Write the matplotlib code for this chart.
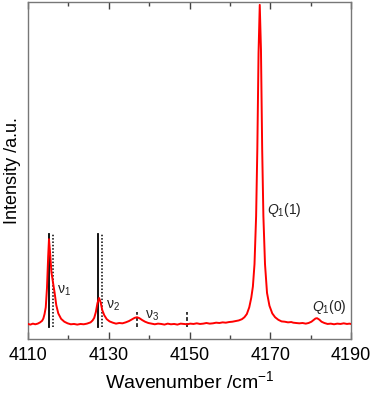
import matplotlib
matplotlib.use("Agg")
import matplotlib.pyplot as plt
from matplotlib.ticker import FixedLocator

plt.rcParams['font.family'] = ['Liberation Sans', 'DejaVu Sans']
plt.rcParams['mathtext.fontset'] = 'custom'
plt.rcParams['mathtext.rm'] = 'Liberation Sans'
plt.rcParams['mathtext.it'] = 'Liberation Sans:italic'

# Spectrum (wavenumber, intensity)
wavenumber = [4110.0, 4110.6, 4111.2, 4111.8, 4112.4, 4113.0, 4113.5, 4113.8, 4114.1, 4114.4,
              4114.7, 4115.0, 4115.2, 4115.5, 4115.8, 4116.2, 4116.6, 4117.0, 4117.5, 4118.2,
              4119.0, 4119.8, 4120.6, 4121.4, 4122.2, 4123.0, 4123.8, 4124.6, 4125.5, 4126.0,
              4126.4, 4126.8, 4127.2, 4127.6, 4128.0, 4128.4, 4128.9, 4129.5, 4130.2, 4131.0,
              4131.8, 4132.6, 4133.4, 4134.2, 4135.0, 4135.7, 4136.4, 4137.0, 4137.6, 4138.3,
              4139.0, 4139.8, 4140.6, 4141.4, 4142.2, 4143.0, 4143.8, 4144.6, 4145.4, 4146.2,
              4147.0, 4147.8, 4148.6, 4149.4, 4150.2, 4151.0, 4151.8, 4152.6, 4153.4, 4154.2,
              4155.0, 4155.8, 4156.6, 4157.4, 4158.2, 4159.0, 4159.8, 4160.6, 4161.4, 4162.2,
              4163.0, 4163.6, 4164.2, 4164.8, 4165.3, 4165.7, 4166.1, 4166.5, 4166.8, 4167.1,
              4167.4, 4167.7, 4168.0, 4168.3, 4168.7, 4169.2, 4169.8, 4170.5, 4171.2, 4172.0,
              4172.8, 4173.6, 4174.4, 4175.2, 4175.7, 4176.4, 4177.2, 4178.0, 4178.8, 4179.5,
              4180.2, 4180.8, 4181.2, 4181.6, 4182.1, 4182.7, 4183.4, 4184.2, 4185.0, 4185.8,
              4186.6, 4187.4, 4188.2, 4189.0, 4189.6, 4190.0]
intensity = [0.003, 0.001, 0.004, 0.002, 0.004, 0.008, 0.013, 0.020, 0.034, 0.055,
             0.115, 0.215, 0.268, 0.220, 0.165, 0.132, 0.100, 0.062, 0.036, 0.019,
             0.010, 0.005, 0.002, 0.003, 0.001, 0.003, 0.002, 0.004, 0.008, 0.014,
             0.022, 0.040, 0.068, 0.084, 0.070, 0.046, 0.030, 0.018, 0.011, 0.007,
             0.004, 0.006, 0.005, 0.008, 0.012, 0.017, 0.022, 0.024, 0.021, 0.015,
             0.010, 0.006, 0.004, 0.002, 0.004, 0.003, 0.001, 0.004, 0.002, 0.003,
             0.001, 0.004, 0.003, 0.002, 0.004, 0.003, 0.005, 0.003, 0.004, 0.006,
             0.004, 0.005, 0.007, 0.006, 0.008, 0.007, 0.009, 0.010, 0.012, 0.014,
             0.018, 0.024, 0.034, 0.055, 0.085, 0.120, 0.190, 0.340, 0.550, 0.850,
             1.000, 0.860, 0.550, 0.340, 0.190, 0.100, 0.060, 0.036, 0.024, 0.016,
             0.011, 0.010, 0.008, 0.009, 0.007, 0.006, 0.005, 0.006, 0.004, 0.006,
             0.010, 0.016, 0.020, 0.021, 0.017, 0.010, 0.006, 0.003, 0.004, 0.002,
             0.004, 0.003, 0.005, 0.003, 0.004, 0.003]

# Reference line positions
solid_lines = [4115.2, 4127.4]
dotted_lines = [4116.1, 4128.4]
dashed_lines = [4136.9, 4149.3]

# Peak labels
peak_labels = [r"ν$_1$", r"ν$_2$", r"ν$_3$", r"$Q_1$(1)", r"$Q_1$(0)"]
label_x = [4117.2, 4129.2, 4139.0, 4169.2, 4180.3]
label_y = [0.106, 0.059, 0.028, 0.36, 0.056]

# Axis ticks
major_ticks = [4110, 4130, 4150, 4170, 4190]
minor_ticks = [4120, 4140, 4160, 4180]

fig = plt.figure(figsize=(3.72, 3.99), dpi=100)
ax = fig.add_axes([28/372, 1 - 339/399, (351-28)/372, (339-2)/399])

ax.plot(wavenumber, intensity, color='#ff0000', lw=1.4, zorder=3)

for x in solid_lines:
    ax.plot([x, x], [-0.006, 0.284], color='black', lw=1.3, zorder=2)
for x in dotted_lines:
    ax.plot([x, x], [-0.006, 0.284], color='black', lw=1.1, ls=(0, (1, 1.2)), zorder=2)
for x in dashed_lines:
    ax.plot([x, x], [-0.006, 0.040], color='black', lw=1.1, ls=(0, (2.5, 1.5)), zorder=2)

for t, x, y in zip(peak_labels, label_x, label_y):
    ax.text(x, y, t, fontsize=10, ha='left', va='center', color='#222222')

ax.set_xlim(4110, 4190)
ax.set_ylim(-0.044, 1.009)
ax.xaxis.set_major_locator(FixedLocator(major_ticks))
ax.xaxis.set_minor_locator(FixedLocator(minor_ticks))
ax.tick_params(axis='x', which='both', direction='in', top=True, bottom=True,
               labelsize=13, color='#444444', pad=6)
ax.tick_params(axis='x', which='major', length=5, width=1)
ax.tick_params(axis='x', which='minor', length=3, width=1)
ax.set_yticks([])
for s in ax.spines.values():
    s.set_color('#777777')
    s.set_linewidth(1)

ax.set_xlabel("Wavenumber /cm$^{-1}$", fontsize=14, labelpad=4)
ax.set_ylabel("Intensity /a.u.", fontsize=13, labelpad=5)

fig.savefig("out.png", dpi=100)
